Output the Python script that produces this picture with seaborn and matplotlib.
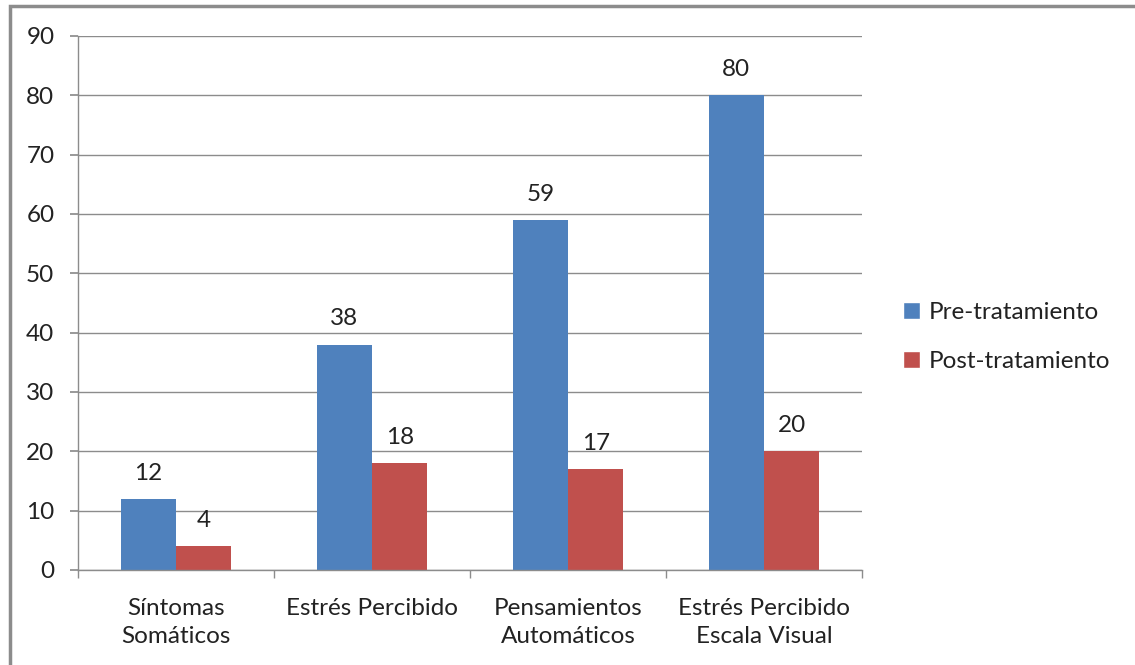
import matplotlib
matplotlib.use("Agg")
import matplotlib.pyplot as plt
import seaborn as sns
import pandas as pd
from matplotlib.patches import Rectangle

categories = ["Síntomas\nSomáticos", "Estrés Percibido", "Pensamientos\nAutomáticos", "Estrés Percibido\nEscala Visual"]
series_names = ["Pre-tratamiento", "Post-tratamiento"]
pre_values = [12, 38, 59, 80]
post_values = [4, 18, 17, 20]
y_ticks = [0, 10, 20, 30, 40, 50, 60, 70, 80, 90]

df = pd.DataFrame({
    "cat": categories * 2,
    "serie": [series_names[0]] * 4 + [series_names[1]] * 4,
    "val": pre_values + post_values,
})

sns.set_theme(style="white")
plt.rcParams['font.family'] = ['Lato', 'DejaVu Sans']

fs = 17.5
fig = plt.figure(figsize=(11.35, 6.65), dpi=100)
ax = fig.add_axes([78/1135, 1-570/665, (862-78)/1135, (570-36)/665])

colors = ["#4F81BD", "#C0504D"]
sns.barplot(data=df, x="cat", y="val", hue="serie", palette=colors, width=0.566,
            saturation=1, ax=ax, order=categories, hue_order=series_names, gap=0)

for cont in ax.containers:
    for bar in cont:
        bar.set_edgecolor("none")
    ax.bar_label(cont, padding=11, fontsize=fs, color="#222222")

ax.set_ylim(0, 90)
ax.set_xlim(-0.5, 3.5)
ax.set_yticks(y_ticks)
ax.yaxis.grid(True, color="#8c8c8c", linewidth=1)
ax.set_axisbelow(True)
ax.set_xlabel("")
ax.set_ylabel("")
for s in ["top", "right"]:
    ax.spines[s].set_visible(False)
for s in ["left", "bottom"]:
    ax.spines[s].set_color("#8c8c8c")
    ax.spines[s].set_linewidth(1)
ax.tick_params(axis="y", left=True, length=6, color="#8c8c8c", labelsize=fs, labelcolor="#222222", pad=11)
ax.set_xticks([0, 1, 2, 3])
ax.set_xticklabels(categories, fontsize=fs, color="#222222", linespacing=1.4)
ax.set_xticks([-0.5, 0.5, 1.5, 2.5, 3.5], minor=True)
ax.tick_params(axis="x", which="major", bottom=False, pad=14)
ax.tick_params(axis="x", which="minor", bottom=True, length=6, color="#8c8c8c")

leg = ax.legend(loc="center left", bbox_to_anchor=(881/1135, 1-337/665), bbox_transform=fig.transFigure,
                frameon=False, fontsize=fs, handlelength=0.7, handleheight=0.7,
                handletextpad=0.35, labelspacing=1.15, labelcolor="#222222")

fig.patches.append(Rectangle((10/1135, -0.1), 1.2, 1.1 - 6/665, transform=fig.transFigure,
                             fill=False, edgecolor="#8c8c8c", linewidth=2.5, zorder=10))

fig.savefig("out.png", dpi=100, facecolor="white")
